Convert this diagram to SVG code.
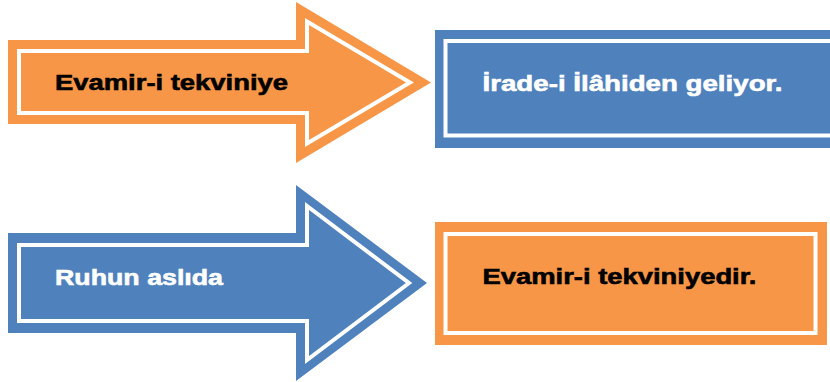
<svg xmlns="http://www.w3.org/2000/svg" width="830" height="382" viewBox="0 0 830 382">
<style>
.or{fill:#F79646}
.bl{fill:#4F81BD}
.inner{fill:none;stroke:#FFFFFF;stroke-width:4;stroke-linejoin:miter}
.t{font-family:"Liberation Sans",Arial,sans-serif;font-weight:bold;font-size:22.5px;stroke-width:0.6px}
.dark{fill:#000000;stroke:#000000}
.light{fill:#FFFFFF;stroke:#FFFFFF}
</style>
<rect width="830" height="382" fill="#FFFFFF"/>
<g id="arrow1">
<polygon class="or" points="8,40 296,40 296,2 431,82.5 296,163 296,124 8,124"/>
<polygon class="inner" points="19,51 307,51 307,21.5 410,82.5 307,143.5 307,113 19,113"/>
<text class="t dark" x="55" y="89.5" textLength="233" lengthAdjust="spacingAndGlyphs">Evamir-i tekviniye</text>
</g>
<g id="box1">
<rect class="bl" x="435" y="30" width="410" height="118"/>
<rect class="inner" x="445.5" y="41" width="390" height="94.5"/>
<text class="t light" x="482.5" y="90.5" textLength="300" lengthAdjust="spacingAndGlyphs">İrade-i İlâhiden geliyor.</text>
</g>
<g id="arrow2">
<polygon class="bl" points="8,233 296,233 296,185 427,283 296,381 296,333 8,333"/>
<polygon class="inner" points="19,245 307,245 307,206 409,283 307,360 307,321 19,321"/>
<text class="t light" x="55" y="284.5" textLength="168" lengthAdjust="spacingAndGlyphs">Ruhun aslıda</text>
</g>
<g id="box2">
<rect class="or" x="435" y="222" width="392" height="123"/>
<rect class="inner" x="445.5" y="234" width="370" height="99"/>
<text class="t dark" x="482.5" y="283.5" textLength="274" lengthAdjust="spacingAndGlyphs">Evamir-i tekviniyedir.</text>
</g>
<g id="connectors"></g>
</svg>
